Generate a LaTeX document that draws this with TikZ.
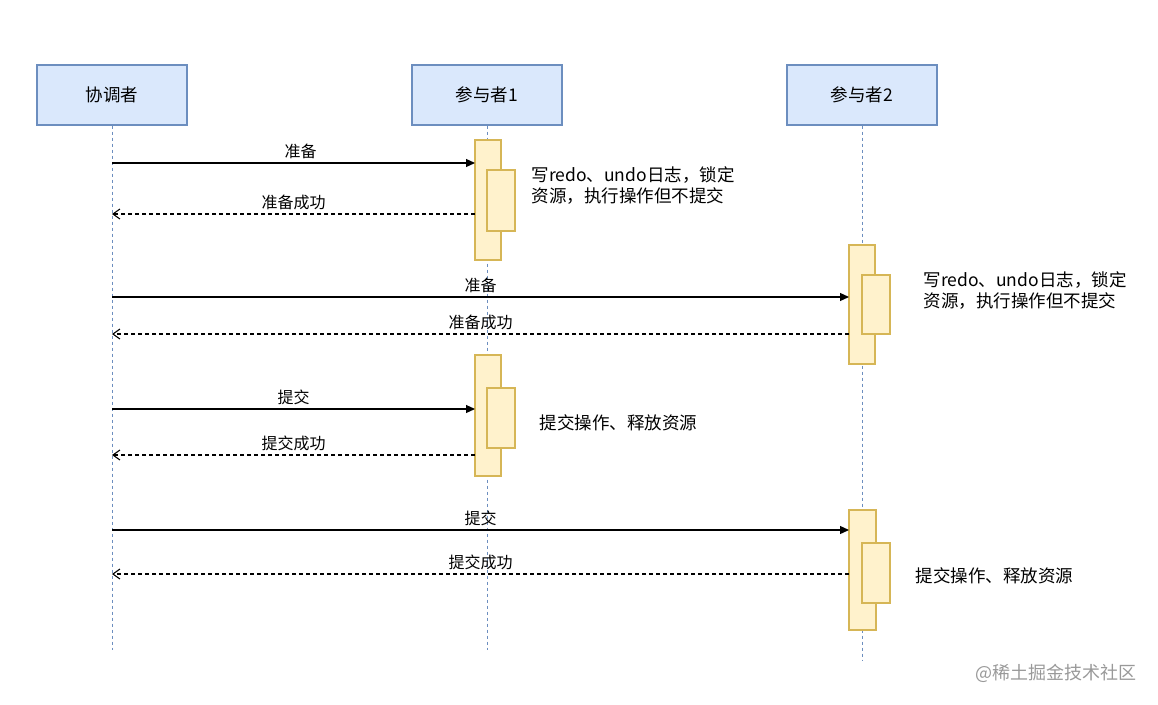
\documentclass[tikz,border=0pt]{standalone}
\usepackage{fontspec}
\setmainfont{Noto Sans CJK SC}
\usetikzlibrary{arrows.meta}
\definecolor{boxfill}{HTML}{DAE8FC}
\definecolor{boxline}{HTML}{6C8EBF}
\definecolor{actfill}{HTML}{FFF2CC}
\definecolor{actline}{HTML}{D6B656}
\begin{document}
\begin{tikzpicture}[x=1pt,y=-1pt,
  actor/.style={draw=boxline,fill=boxfill,line width=1.2pt,minimum width=150pt,minimum height=60pt,font=\fontsize{17.5}{20}\selectfont},
  life/.style={boxline,dash pattern=on 3pt off 3pt,line width=0.9pt},
  act/.style={draw=actline,fill=actfill,line width=1.2pt},
  call/.style={line width=1.2pt,-{Triangle[length=9pt,width=8pt]}},
  reply/.style={line width=1.1pt,dash pattern=on 4pt off 3pt,-{Straight Barb[length=7pt,width=10pt]}},
  lbl/.style={font=\fontsize{16}{18}\selectfont,inner sep=1pt},
  note/.style={font=\fontsize{17.5}{21}\selectfont,align=left,anchor=west}]
\useasboundingbox (0,0) rectangle (1158,704);
% participants
\node[actor] (c) at (112,95) {协调者};
\node[actor] (p1) at (487,95) {参与者1};
\node[actor] (p2) at (862,95) {参与者2};
\coordinate (ce) at (112,650);
\coordinate (p1e) at (487,650);
\coordinate (p2e) at (862,660);
\draw[life] (c.south) -- (ce);
\draw[life] (p1.south) -- (p1e);
\draw[life] (p2.south) -- (p2e);
% activations
\draw[act] (475,140) rectangle (501,260);
\draw[act] (487,170) rectangle (515,231);
\draw[act] (849,245) rectangle (875,364);
\draw[act] (862,275) rectangle (890,334);
\draw[act] (475,355) rectangle (501,476);
\draw[act] (487,388) rectangle (515,448);
\draw[act] (849,510) rectangle (876,630);
\draw[act] (862,543) rectangle (890,603);
% messages
\coordinate (a1) at (112,163); \coordinate (b1) at (475,163);
\draw[call] (a1) -- node[lbl,above=3pt,xshift=7pt] {准备} (b1);
\coordinate (a2) at (475,214); \coordinate (b2) at (112,214);
\draw[reply] (a2) -- node[lbl,above=3pt] {准备成功} (b2);
\coordinate (a3) at (112,297); \coordinate (b3) at (849,297);
\draw[call] (a3) -- node[lbl,above=3pt] {准备} (b3);
\coordinate (a4) at (849,334); \coordinate (b4) at (112,334);
\draw[reply] (a4) -- node[lbl,above=3pt] {准备成功} (b4);
\coordinate (a5) at (112,409); \coordinate (b5) at (475,409);
\draw[call] (a5) -- node[lbl,above=3pt] {提交} (b5);
\coordinate (a6) at (475,455); \coordinate (b6) at (112,455);
\draw[reply] (a6) -- node[lbl,above=3pt] {提交成功} (b6);
\coordinate (a7) at (112,530); \coordinate (b7) at (849,530);
\draw[call] (a7) -- node[lbl,above=3pt] {提交} (b7);
\coordinate (a8) at (849,574); \coordinate (b8) at (112,574);
\draw[reply] (a8) -- node[lbl,above=3pt] {提交成功} (b8);
% notes
\node[note] (n1) at (528,186) {写redo、undo日志，锁定\\资源，执行操作但不提交};
\node[note] (n2) at (920,291) {写redo、undo日志，锁定\\资源，执行操作但不提交};
\node[note] (n3) at (536,423) {提交操作、释放资源};
\node[note] (n4) at (912,576) {提交操作、释放资源};
\node[anchor=east,text=black!40,font=\fontsize{18}{20}\selectfont] (wm) at (1140,673) {@稀土掘金技术社区};
\end{tikzpicture}
\end{document}
